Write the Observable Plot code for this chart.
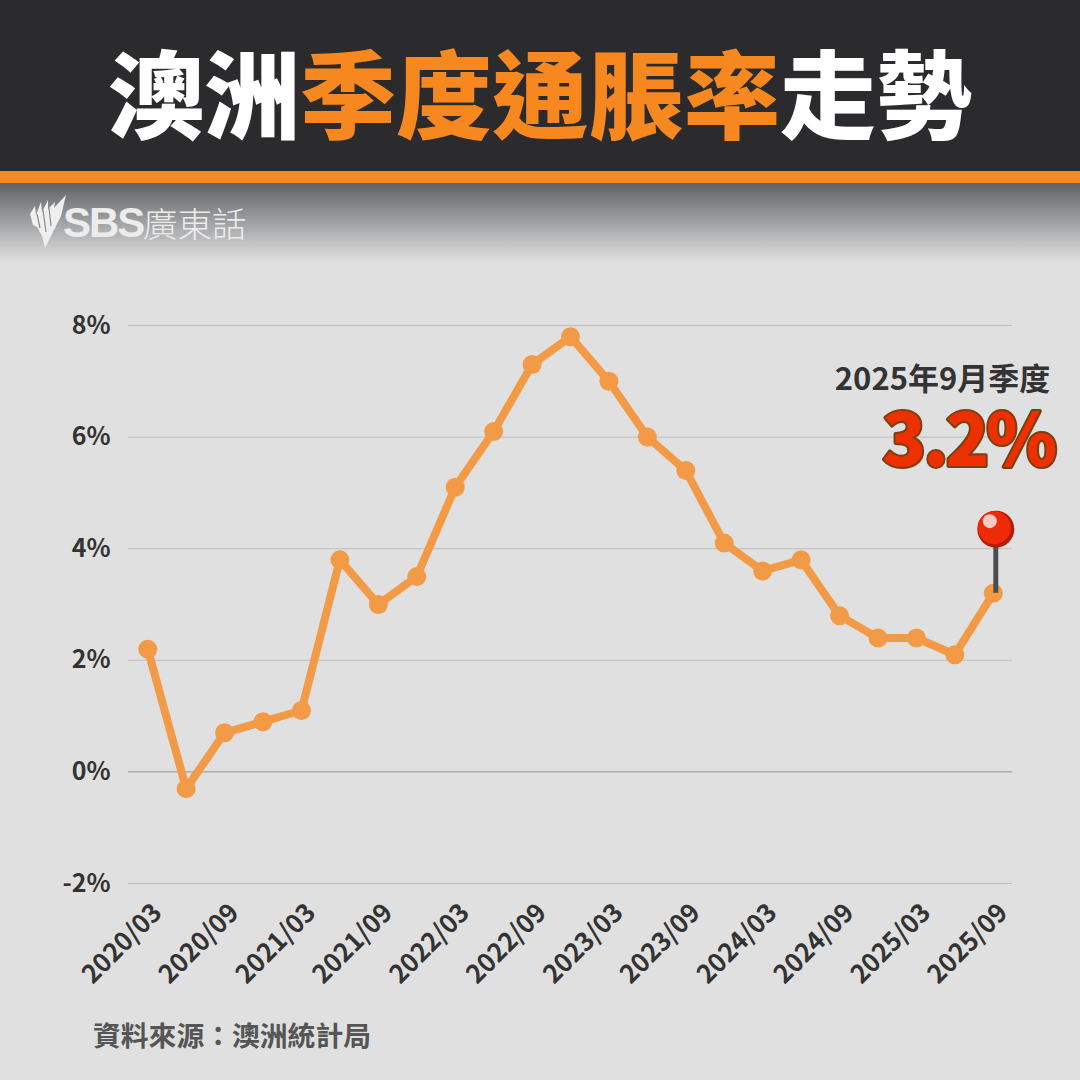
<!DOCTYPE html>
<html lang="zh-Hant">
<head>
<meta charset="utf-8">
<script src="https://cdn.jsdelivr.net/npm/d3@7"></script>
<script src="https://cdn.jsdelivr.net/npm/@observablehq/plot@0.6"></script>
<style>
  html,body{margin:0;padding:0;background:#e0e0e0;width:1080px;height:1080px;overflow:hidden;font-family:"Noto Sans CJK TC","Noto Sans",sans-serif}
  #title{height:171px;background:#2b2b2d;color:#fff;text-align:center;font-size:96px;font-weight:900;line-height:179px;white-space:nowrap;overflow:hidden}
  #title span{color:#f7881f}
  #bar{height:12px;background:#f7881f}
  #fade{height:79px;background:linear-gradient(#5f6366,#e0e0e0);position:relative}
  #logo{position:absolute;left:28px;top:11px}
  #chart{height:743px}
  #chart svg{display:block}
  #source{position:absolute;left:93px;top:1013px;font-size:27.8px;font-weight:700;color:#555;line-height:42px}
</style>
</head>
<body>
<div id="title">澳洲<span>季度通脹率</span>走勢</div>
<div id="bar"></div>
<div id="fade">
  <svg id="logo" width="230" height="60" viewBox="0 0 230 60">
    <path d="M2 20 L7 12 L8 21 L13 8 L14 18 L20 6 L20 15 L27 8 L26 14 L38 1 L33 22 L17 54 L14 42 L9 33 L5 31 Z" fill="#efefef"/>
    <path d="M9 20 L12 34 M15 16 L18 38 M21 14 L23 32" stroke="#8a8a8a" stroke-width="1.2" fill="none"/>
    <text x="35" y="43" font-size="42" font-weight="700" fill="#ececec" font-family="'Liberation Sans',sans-serif" letter-spacing="-2">SBS</text>
    <text x="115" y="43" font-size="34.5" font-weight="300" fill="#ececec" font-family="'Noto Sans CJK TC',sans-serif">廣東話</text>
  </svg>
</div>
<div id="chart"></div>
<div id="source">資料來源：澳洲統計局</div>
<script>
const quarters = ["2020/03","2020/06","2020/09","2020/12","2021/03","2021/06","2021/09","2021/12","2022/03","2022/06","2022/09","2022/12","2023/03","2023/06","2023/09","2023/12","2024/03","2024/06","2024/09","2024/12","2025/03","2025/06","2025/09"];
const inflation = [2.2,-0.3,0.7,0.9,1.1,3.8,3.0,3.5,5.1,6.1,7.3,7.8,7.0,6.0,5.4,4.1,3.6,3.8,2.8,2.4,2.4,2.1,3.2];
const yTicks = [-2,0,2,4,6,8];
const xTicks = quarters.filter((d,i)=>i%2===0);
const latest = quarters[quarters.length-1];
const latestValue = inflation[inflation.length-1];
const pinTop = 4.35;
const noteLabel = "2025年9月季度";
const noteValue = "3.2%";
const noteLabelAt = 7.03;
const noteValueAt = 5.9;

const table = quarters.map((q,i)=>({q,v:inflation[i]}));
const plot = Plot.plot({
  width:1080,height:743,
  marginLeft:128,marginRight:68,marginTop:63,marginBottom:122,
  style:{background:"transparent",fontFamily:"'Noto Sans CJK TC','Noto Sans',sans-serif",overflow:"visible"},
  x:{type:"point",domain:quarters,padding:0.5,round:false,label:null},
  y:{domain:[-2,8],label:null},
  marks:[
    Plot.ruleY(yTicks.filter(d=>d!==0),{stroke:"#bdbdbd",strokeWidth:1}),
    Plot.ruleY([0],{stroke:"#8f8f8f",strokeWidth:1}),
    Plot.axisY({ticks:yTicks,tickSize:0,tickPadding:18,tickFormat:d=>d+"%",fontSize:25,fontWeight:700,fill:"#333",label:null,marginLeft:128}),
    Plot.axisX({ticks:xTicks,tickSize:0,tickPadding:8,tickRotate:-45,fontSize:25.5,fontWeight:700,fill:"#333",label:null,textAnchor:"end",dx:10,dy:17}),
    Plot.text([noteLabel],{x:()=>latest,y:()=>noteLabelAt,text:d=>d,textAnchor:"end",dx:57,fontSize:31,fontWeight:700,fill:"#333"}),
    Plot.text([noteValue],{x:()=>latest,y:()=>noteValueAt,text:d=>d,textAnchor:"end",dx:61,fontSize:72,fontWeight:900,fill:"#ee2f00",stroke:"#7a4010",strokeWidth:4}),
    Plot.line(table,{x:"q",y:"v",stroke:"#f39a47",strokeWidth:8,strokeLinejoin:"round"}),
    Plot.dot(table,{x:"q",y:"v",r:9.5,fill:"#f39a47",stroke:"none"}),
    Plot.ruleX([latest],{y1:()=>latestValue,y2:()=>pinTop,dx:2.5,stroke:"#4d4d4f",strokeWidth:5}),
    Plot.dot([latest],{x:d=>d,y:()=>pinTop,dx:2.5,r:18.5,fill:"#b51c06",stroke:"none"}),
    Plot.dot([latest],{x:d=>d,y:()=>pinTop,dx:1,dy:-1.5,r:16.5,fill:"#ee2a08",stroke:"none"}),
    Plot.dot([latest],{x:d=>d,y:()=>pinTop,dx:-3.5,dy:-8,r:7,fill:"#f6cbc2",stroke:"none"})
  ]
});
d3.select(plot).selectAll("text").filter(function(){return this.textContent===noteValue;}).style("letter-spacing","-3px");
document.getElementById("chart").appendChild(plot);
</script>
</body>
</html>
